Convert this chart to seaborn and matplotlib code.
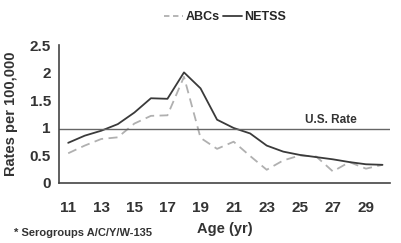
import numpy as np
import pandas as pd
import seaborn as sns
import matplotlib.pyplot as plt
from matplotlib.ticker import FixedLocator

# Datos
edades = list(range(11, 31))
netss = [0.73, 0.86, 0.95, 1.07, 1.28, 1.54, 1.53, 2.01, 1.72, 1.15,
         1.00, 0.90, 0.68, 0.57, 0.51, 0.47, 0.43, 0.38, 0.34, 0.33]
abcs = [0.54, 0.68, 0.80, 0.83, 1.08, 1.22, 1.23, 1.93, 0.82, 0.62,
        0.75, 0.49, 0.24, 0.41, 0.50, 0.48, 0.21, 0.38, 0.26, 0.33]
tasa_us = 0.98
y_ticks = [0, 0.5, 1, 1.5, 2, 2.5]
y_labels = ["0", "0.5", "1", "1.5", "2", "2.5"]
x_ticks = list(range(11, 31, 2))

df = pd.DataFrame({"Age": edades * 2,
                   "Rate": abcs + netss,
                   "Source": ["ABCs"] * 20 + ["NETSS"] * 20})

sns.set_style("white")
plt.rcParams['font.family'] = ['Liberation Sans Narrow', 'Liberation Sans', 'DejaVu Sans']
plt.rcParams['font.weight'] = 'bold'
txt = "#333333"

fig = plt.figure(figsize=(4.02, 2.43), dpi=100)
ax = fig.add_axes([0.147, 0.247, 0.823, 0.566])

sns.lineplot(data=df, x="Age", y="Rate", hue="Source", style="Source",
             palette={"ABCs": "#b0b0b0", "NETSS": "#3a3a3a"},
             dashes={"ABCs": (5, 3), "NETSS": ""}, linewidth=1.3, ax=ax,
             legend=False)
ax.axhline(tasa_us, color="#666666", linewidth=1.0)
ax.text(26.9, tasa_us + 0.06, "U.S. Rate", fontsize=8.5, color=txt,
        fontweight="bold", ha="center", va="bottom")

ax.set_xlim(10.45, 30.45)
ax.set_ylim(0, 2.5)
ax.set_yticks(y_ticks)
ax.set_yticklabels(y_labels, fontsize=11, color=txt, fontweight="bold")
ax.set_xticks(x_ticks)
ax.set_xticklabels([str(v) for v in x_ticks], fontsize=11, color=txt, fontweight="bold")
ax.xaxis.set_minor_locator(FixedLocator(np.arange(11.5, 30.6, 1)))
ax.tick_params(axis="x", which="major", length=0, pad=13)
ax.tick_params(axis="x", which="minor", length=4, direction="in", color="#444444", width=0.8)
ax.tick_params(axis="y", length=0, pad=6)

for s in ["top", "right"]:
    ax.spines[s].set_visible(False)
for s in ["left", "bottom"]:
    ax.spines[s].set_color("#444444")
    ax.spines[s].set_linewidth(1.2)

ax.set_xlabel("Age (yr)", fontsize=10.5, color=txt, fontweight="bold", labelpad=5)
ax.set_ylabel("Rates per 100,000", fontsize=10.5, color=txt, fontweight="bold", labelpad=8)

# Leyenda manual arriba
ax.plot([], [], color="#b0b0b0", dashes=(3, 2), linewidth=1.3, label="ABCs")
ax.plot([], [], color="#3a3a3a", linewidth=1.3, label="NETSS")
fig.legend(loc="center", bbox_to_anchor=(0.56, 0.93), ncol=2, frameon=False,
           prop={"size": 9, "weight": "bold"}, handlelength=1.5,
           handletextpad=0.2, columnspacing=0.3)

fig.text(0.035, 0.03, "* Serogroups A/C/Y/W-135", fontsize=8, color=txt, fontweight="bold")

fig.savefig("out.png", dpi=100)
